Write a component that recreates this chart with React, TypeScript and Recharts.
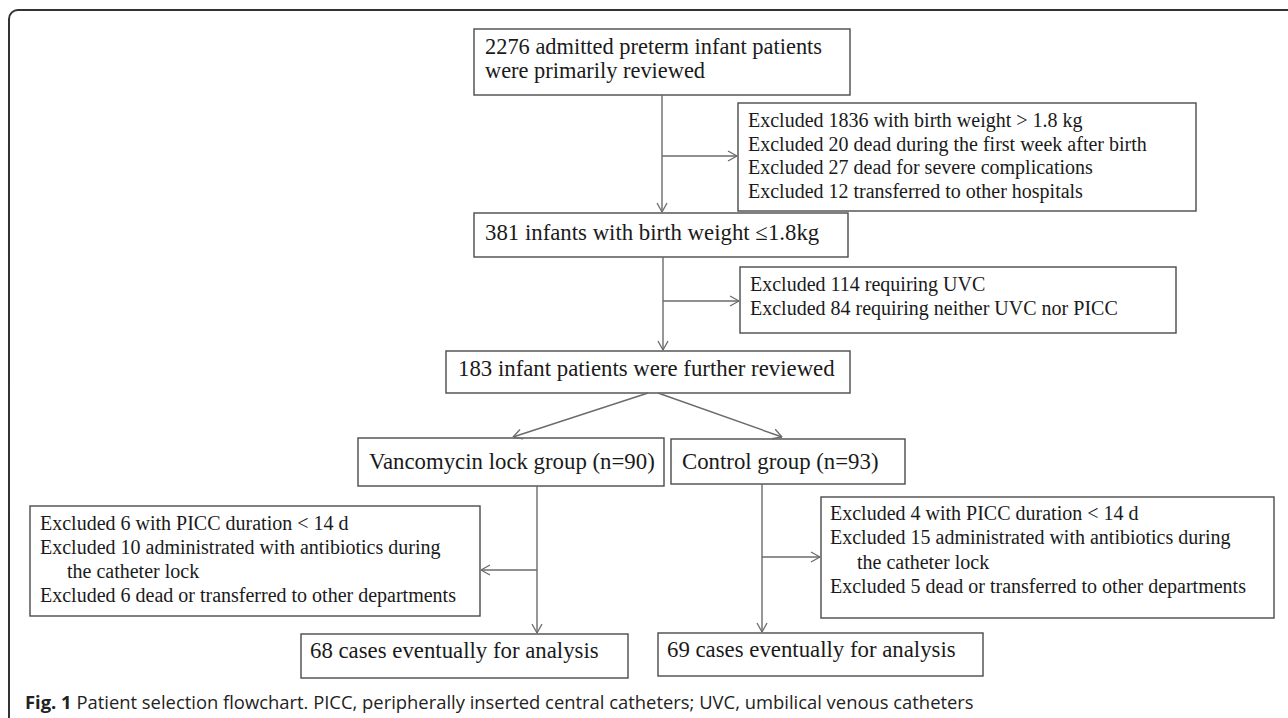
import { ComposedChart, XAxis, YAxis, ReferenceArea, ReferenceLine } from "recharts";

const W = 1288;
const H = 718;

// box texts of the flowchart (main path)
const mainSteps: string[][] = [
  ["2276 admitted preterm infant patients", "were primarily reviewed"],
  ["381 infants with birth weight \u22641.8kg"],
  ["183 infant patients were further reviewed"],
  ["Vancomycin lock group (n=90)"],
  ["Control group (n=93)"],
  ["68 cases eventually for analysis"],
  ["69 cases eventually for analysis"],
];

// exclusion boxes; a leading ">" marks a wrapped (indented) line
const exclusionSteps: string[][] = [
  [
    "Excluded 1836 with birth weight > 1.8 kg",
    "Excluded 20 dead during the first week after birth",
    "Excluded 27 dead for severe complications",
    "Excluded 12 transferred to other hospitals",
  ],
  ["Excluded 114 requiring UVC", "Excluded 84 requiring neither UVC nor PICC"],
  [
    "Excluded 6 with PICC duration < 14 d",
    "Excluded 10 administrated with antibiotics during",
    ">the catheter lock",
    "Excluded 6 dead or transferred to other departments",
  ],
  [
    "Excluded 4 with PICC duration < 14 d",
    "Excluded 15 administrated with antibiotics during",
    ">the catheter lock",
    "Excluded 5 dead or transferred to other departments",
  ],
];

const captionBold = "Fig. 1";
const captionText =
  "Patient selection flowchart. PICC, peripherally inserted central catheters; UVC, umbilical venous catheters";

// layout (pixel units of the axes)
const mainLayout = [
  { x1: 474, x2: 850, y1: 29, y2: 95, tx: 485, ty: 54, gap: 23.5, fs: 22.4 },
  { x1: 474, x2: 848, y1: 213, y2: 257, tx: 485, ty: 240, gap: 22, fs: 22.8 },
  { x1: 446, x2: 850, y1: 351, y2: 393, tx: 458, ty: 376, gap: 22, fs: 22.8 },
  { x1: 358, x2: 664, y1: 438, y2: 486, tx: 369, ty: 469, gap: 22, fs: 22.8 },
  { x1: 671, x2: 905, y1: 439, y2: 484, tx: 682, ty: 469, gap: 22, fs: 22.8 },
  { x1: 301, x2: 628, y1: 634, y2: 678, tx: 310, ty: 658, gap: 22, fs: 22.8 },
  { x1: 658, x2: 983, y1: 633, y2: 676, tx: 667, ty: 657, gap: 22, fs: 22.8 },
];
const exclLayout = [
  { x1: 738, x2: 1196, y1: 103, y2: 211, tx: 748, ty: 127, gap: 23.7, fs: 20 },
  { x1: 740, x2: 1176, y1: 267, y2: 333, tx: 750, ty: 291, gap: 24, fs: 20 },
  { x1: 30, x2: 480, y1: 506, y2: 616, tx: 40, ty: 530, gap: 24, fs: 20 },
  { x1: 821, x2: 1274, y1: 497, y2: 618, tx: 830, ty: 520, gap: 24.3, fs: 20 },
];

const links = [
  { a: [662, 95], b: [662, 212] },
  { a: [662, 156], b: [737, 156] },
  { a: [663, 257], b: [663, 350] },
  { a: [663, 301], b: [739, 301] },
  { a: [648, 393], b: [513, 437] },
  { a: [658, 393], b: [782, 437] },
  { a: [537, 486], b: [537, 633] },
  { a: [537, 570], b: [481, 570] },
  { a: [762, 484], b: [762, 632] },
  { a: [762, 557], b: [820, 557] },
];

const SERIF = '"Liberation Serif", "Times New Roman", serif';
const LINE = "#6b6b6b";
const BORDER = "#4a4a4a";

type Lay = { x1: number; x2: number; y1: number; y2: number; tx: number; ty: number; gap: number; fs: number };

const boxShape = (lines: string[], lay: Lay, indent: number) => (props: any) => {
  const { x, y, width, height } = props;
  // text offsets relative to the box rect
  const dx = lay.tx - lay.x1;
  const dy = lay.ty - lay.y1;
  return (
    <g>
      <rect x={x} y={y} width={width} height={height} fill="#fff" stroke={BORDER} strokeWidth={1.4} />
      {lines.map((ln, i) => {
        const wrapped = ln.startsWith(">");
        return (
          <text
            key={i}
            x={x + dx + (wrapped ? indent : 0)}
            y={y + dy + i * lay.gap}
            fontFamily={SERIF}
            fontSize={lay.fs}
            fill="#1a1a1a"
          >
            {wrapped ? ln.slice(1) : ln}
          </text>
        );
      })}
    </g>
  );
};

function arrowHead(a: number[], b: number[]) {
  const dx = b[0] - a[0];
  const dy = b[1] - a[1];
  const len = Math.hypot(dx, dy);
  const ux = dx / len;
  const uy = dy / len;
  const L = 9;
  const Wd = 5;
  const bx = b[0] - ux * L;
  const by = b[1] - uy * L;
  return [
    [bx - uy * Wd, by + ux * Wd],
    [bx + uy * Wd, by - ux * Wd],
  ];
}

const frameShape = (props: any) => {
  const { x, y, width, height } = props;
  return <rect x={x} y={y} width={width} height={height} rx={9} fill="none" stroke="#333" strokeWidth={2} />;
};

export default function App() {
  return (
    <div style={{ position: "absolute", left: 0, top: 0, width: W, height: H, background: "#fff" }}>
      <ComposedChart width={W} height={H} margin={{ top: 0, right: 0, bottom: 0, left: 0 }} data={[]}>
        <XAxis type="number" dataKey="x" domain={[0, W]} hide allowDataOverflow />
        <YAxis type="number" dataKey="y" domain={[0, H]} reversed hide allowDataOverflow />
        <ReferenceArea x1={9} x2={W + 20} y1={10} y2={H + 20} ifOverflow="hidden" shape={frameShape} />
        {links.map((l, i) => (
          <ReferenceLine
            key={`l${i}`}
            segment={[{ x: l.a[0], y: l.a[1] }, { x: l.b[0], y: l.b[1] }]}
            stroke={LINE}
            strokeWidth={1.4}
            ifOverflow="visible"
          />
        ))}
        {links.map((l, i) =>
          arrowHead(l.a, l.b).map((p, j) => (
            <ReferenceLine
              key={`h${i}-${j}`}
              segment={[{ x: p[0], y: p[1] }, { x: l.b[0], y: l.b[1] }]}
              stroke={LINE}
              strokeWidth={1.3}
              ifOverflow="visible"
            />
          ))
        )}
        {mainSteps.map((lines, i) => {
          const lay = mainLayout[i];
          return (
            <ReferenceArea
              key={`m${i}`}
              x1={lay.x1}
              x2={lay.x2}
              y1={lay.y1}
              y2={lay.y2}
              ifOverflow="visible"
              shape={boxShape(lines, lay, 0)}
            />
          );
        })}
        {exclusionSteps.map((lines, i) => {
          const lay = exclLayout[i];
          return (
            <ReferenceArea
              key={`e${i}`}
              x1={lay.x1}
              x2={lay.x2}
              y1={lay.y1}
              y2={lay.y2}
              ifOverflow="visible"
              shape={boxShape(lines, lay, 27)}
            />
          );
        })}
      </ComposedChart>
      <div
        style={{
          position: "absolute",
          left: 25,
          top: 689,
          fontFamily: '"Open Sans", "Noto Sans", sans-serif',
          fontSize: 18.4,
          color: "#222",
          whiteSpace: "nowrap",
          lineHeight: "26px",
        }}
      >
        <b>{captionBold}</b> {captionText}
      </div>
    </div>
  );
}
